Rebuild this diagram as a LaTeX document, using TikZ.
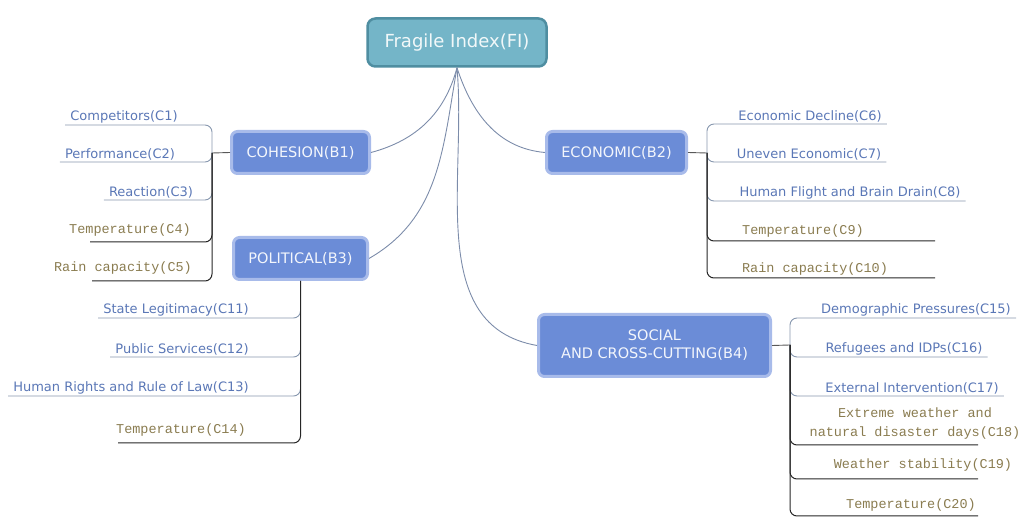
\documentclass[tikz,border=0pt]{standalone}
\usepackage{fontspec}
\setmainfont{DejaVu Sans}
\newfontfamily\monofam{Liberation Mono}
\definecolor{rootfill}{HTML}{74B5C8}
\definecolor{rootedge}{HTML}{4F8EA1}
\definecolor{boxfill}{HTML}{6B8CD7}
\definecolor{boxedge}{HTML}{A8BBEA}
\definecolor{bluetext}{HTML}{5A77B6}
\definecolor{tantext}{HTML}{8A7C50}
\definecolor{linkcol}{HTML}{7C8CAA}
\definecolor{ulcol}{HTML}{8797AE}
\begin{document}
\begin{tikzpicture}[x=1pt,y=1pt,
  rootbox/.style={draw=rootedge, fill=rootfill, line width=2.5pt, rounded corners=8pt,
    text=white!90!rootfill, font=\fontsize{18}{20}\selectfont, minimum width=179pt, minimum height=48pt},
  groupbox/.style={draw=boxedge, fill=boxfill, line width=3pt, rounded corners=6pt,
    text=white!92!boxfill, font=\fontsize{14.5}{18}\selectfont, minimum height=42pt, align=center},
  blueitem/.style={text=bluetext, font=\fontsize{13}{15}\selectfont, inner xsep=5pt, inner ysep=1.5pt, anchor=south},
  tanitem/.style={text=tantext, font=\monofam\fontsize{13.5}{19}\selectfont, align=center},
  link/.style={draw=linkcol, line width=0.9pt},
  stub/.style={draw=black!65, line width=0.9pt},
  bluebranch/.style={draw=ulcol, line width=0.9pt, rounded corners=7pt},
  darkbranch/.style={draw=black!85, line width=1pt, rounded corners=7pt}]
\useasboundingbox (0,0) rectangle (1029,-518);

\node[rootbox] (fi) at (457,-42.5) {Fragile Index(FI)};
\node[groupbox, minimum width=138pt] (b1) at (300.5,-152.5) {COHESION(B1)};
\node[groupbox, minimum width=134pt] (b3) at (300.5,-258.5) {POLITICAL(B3)};
\node[groupbox, minimum width=140pt] (b2) at (616.5,-152.5) {ECONOMIC(B2)};
\node[groupbox, minimum width=232pt, minimum height=62pt] (b4) at (654.5,-345.5) {SOCIAL\\AND CROSS-CUTTING(B4)};

\draw[link] (fi.south) to[out=-105, in=15] (b1.east);
\draw[link] (fi.south) to[out=-100, in=30] (b3.east);
\draw[link] (fi.south) to[out=-72, in=175] (b2.east -| b2.west);
\draw[link] (fi.south) to[out=-85, in=170] (b4.west);

% cohesion
\coordinate (s1) at (212,-153);
\node[blueitem] (c1) at (124,-125) {Competitors(C1)};
\node[blueitem] (c2) at (120,-162) {Performance(C2)};
\node[blueitem] (c3) at (151,-200) {Reaction(C3)};
\node[tanitem] (c4) at (130,-230) {Temperature(C4)};
\node[tanitem] (c5) at (123,-268) {Rain capacity(C5)};
\coordinate (u4) at (90,-242);
\coordinate (u5) at (92,-281);
\draw[stub] (b1.west) -- (s1);
\foreach \c in {c1,c2,c3} \draw[bluebranch] (s1) |- (\c.south west);
\foreach \u in {u4,u5} \draw[darkbranch] (s1) |- (\u);

% political
\node[blueitem] (c11) at (176,-318) {State Legitimacy(C11)};
\node[blueitem] (c12) at (182,-357) {Public Services(C12)};
\node[blueitem] (c13) at (131,-396) {Human Rights and Rule of Law(C13)};
\node[tanitem] (c14) at (181,-430) {Temperature(C14)};
\coordinate (u14) at (118,-443);
\foreach \c in {c11,c12,c13} \draw[bluebranch] (b3.south) |- (\c.south west);
\draw[darkbranch] (b3.south) |- (u14);

% economic
\coordinate (s2) at (707,-153);
\node[blueitem] (c6) at (810,-124) {Economic Decline(C6)};
\node[blueitem] (c7) at (809,-162) {Uneven Economic(C7)};
\node[blueitem] (c8) at (850,-201) {Human Flight and Brain Drain(C8)};
\node[tanitem] (c9) at (803,-231) {Temperature(C9)};
\node[tanitem] (c10) at (815,-269) {Rain capacity(C10)};
\coordinate (u9) at (935,-241);
\coordinate (u10) at (935,-278);
\draw[stub] (b2.east) -- (s2);
\foreach \c in {c6,c7,c8} \draw[bluebranch] (s2) |- (\c.south east);
\foreach \u in {u9,u10} \draw[darkbranch] (s2) |- (\u);

% social
\coordinate (s4) at (790,-345);
\node[blueitem] (c15) at (916,-318) {Demographic Pressures(C15)};
\node[blueitem] (c16) at (904,-357) {Refugees and IDPs(C16)};
\node[blueitem] (c17) at (912,-396) {External Intervention(C17)};
\node[tanitem] (c18) at (915,-424) {Extreme weather and\\natural disaster days(C18)};
\node[tanitem] (c19) at (923,-465) {Weather stability(C19)};
\node[tanitem] (c20) at (911,-505) {Temperature(C20)};
\coordinate (u18) at (978,-445);
\coordinate (u19) at (978,-479);
\coordinate (u20) at (978,-516);
\draw[stub] (b4.east) -- (s4);
\foreach \c in {c15,c16,c17} \draw[bluebranch] (s4) |- (\c.south east);
\foreach \u in {u18,u19,u20} \draw[darkbranch] (s4) |- (\u);
\end{tikzpicture}
\end{document}
